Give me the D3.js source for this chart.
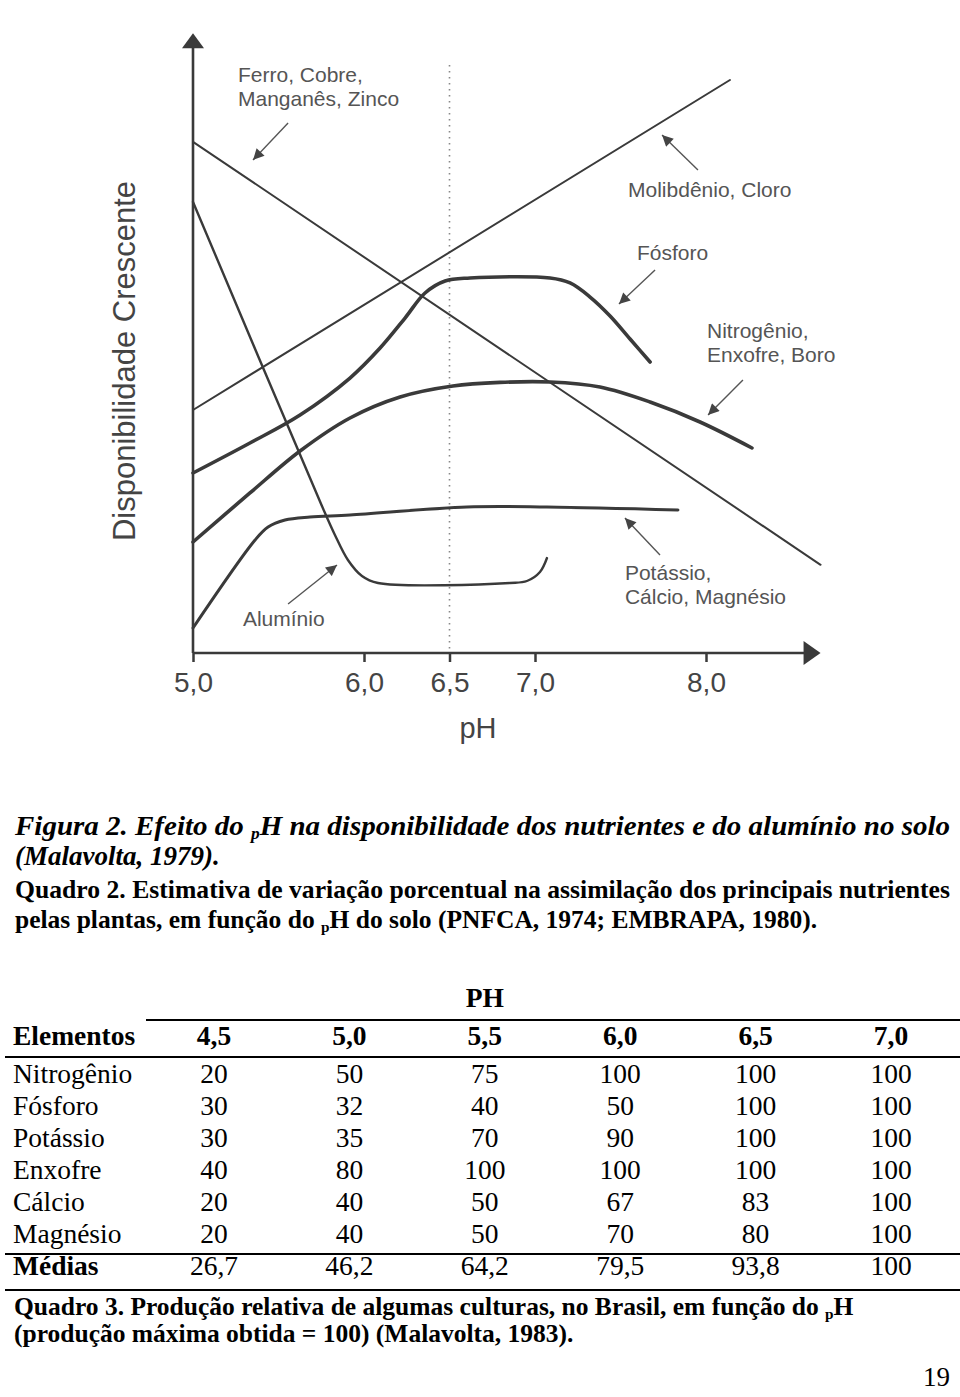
<!DOCTYPE html>
<html><head><meta charset="utf-8">
<script src="https://cdn.jsdelivr.net/npm/d3@7"></script>
<style>body{margin:0;background:#fff}</style>
</head><body><svg id="c" width="960" height="1397"></svg>
<script>
// ---------- chart data (pH on x, relative availability on y) ----------
const xTicks = [5.0, 6.0, 6.5, 7.0, 8.0];

const ferroPH  = [5.0, 8.67];
const ferroVal = [85.2, 14.7];

const molibPH  = [5.0, 8.14];
const molibVal = [40.5, 95.5];

const fosforoPH  = [5.0, 5.333, 5.626, 5.918, 6.094, 6.240, 6.357, 6.474, 6.620, 7.088, 7.205, 7.322, 7.439, 7.556, 7.673];
const fosforoVal = [30.0, 35.0, 39.67, 45.83, 50.83, 55.83, 60.0, 62.0, 62.5, 62.5, 61.67, 59.33, 56.17, 52.33, 48.5];

const nitroPH  = [5.0, 5.333, 5.626, 5.918, 6.211, 6.520, 6.795, 7.088, 7.380, 7.673, 7.965, 8.269];
const nitroVal = [18.5, 26.67, 33.67, 39.17, 42.67, 44.5, 45.1, 45.17, 44.33, 41.83, 38.5, 34.17];

const potassioPH  = [5.0, 5.363, 5.439, 5.538, 5.684, 5.918, 6.602, 7.070, 7.836];
const potassioVal = [4.17, 18.83, 21.0, 22.17, 22.67, 23.0, 24.33, 24.33, 23.83];

const aluminioPH  = [5.0, 5.754, 5.830, 5.906, 5.988, 6.082, 6.854, 6.953, 7.029, 7.070];
const aluminioVal = [75.17, 24.5, 19.67, 15.5, 12.83, 11.67, 11.67, 12.0, 13.5, 15.83];

// ---------- table data ----------
const phCols    = ["4,5", "5,0", "5,5", "6,0", "6,5", "7,0"];
const elementos = ["Nitrogênio", "Fósforo", "Potássio", "Enxofre", "Cálcio", "Magnésio"];
const nitrogenio = [20, 50, 75, 100, 100, 100];
const fosforo    = [30, 32, 40, 50, 100, 100];
const potassio   = [30, 35, 70, 90, 100, 100];
const enxofre    = [40, 80, 100, 100, 100, 100];
const calcio     = [20, 40, 50, 67, 83, 100];
const magnesio   = [20, 40, 50, 70, 80, 100];
const medias     = [26.7, 46.2, 64.2, 79.5, 93.8, 100];

// ---------- drawing ----------
const svg = d3.select("#c");
const ink = "#3a3a3a", labelInk = "#555";
const sans = "'Liberation Sans', Arial, sans-serif";
const serif = "'Liberation Serif', 'Times New Roman', serif";
const loc = d3.formatLocale({decimal: ",", thousands: ".", grouping: [3], currency: ["", ""]});
const f1 = loc.format(".1f");

const x = d3.scaleLinear().domain([5, 8]).range([193, 706]);
const y = d3.scaleLinear().domain([0, 100]).range([653, 53]);

const defs = svg.append("defs");
defs.append("marker").attr("id", "ah").attr("viewBox", "0 0 10 10")
  .attr("refX", 10).attr("refY", 5).attr("markerWidth", 12).attr("markerHeight", 11)
  .attr("markerUnits", "userSpaceOnUse").attr("orient", "auto")
  .append("path").attr("d", "M0,0 L10,5 L0,10 Z").attr("fill", "#444");

const g = svg.append("g");

// dotted pH 6.5 line
g.append("line").attr("x1", x(6.5)).attr("x2", x(6.5)).attr("y1", y(98)).attr("y2", y(0))
  .attr("stroke", "#888").attr("stroke-width", 1.6).attr("stroke-dasharray", "1.5,4.5");

// axes
const xAxis = d3.axisBottom(x).tickValues(xTicks).tickSize(9).tickPadding(10).tickFormat(f1);
const ax = g.append("g").attr("transform", `translate(0,${y(0)})`).call(xAxis);
ax.select(".domain").remove();
ax.selectAll(".tick line").attr("stroke", ink).attr("stroke-width", 2.5);
ax.selectAll(".tick text").attr("font-family", sans).attr("font-size", 28).attr("fill", "#444");

const x0 = x(5), xEnd = x(8.67), yTop = y(103.3);
g.append("line").attr("x1", x0).attr("x2", xEnd - 10).attr("y1", y(0)).attr("y2", y(0))
  .attr("stroke", ink).attr("stroke-width", 2.6);
g.append("path").attr("d", `M${xEnd - 17},${y(0) - 12} L${xEnd},${y(0)} L${xEnd - 17},${y(0) + 12} Z`).attr("fill", ink);
g.append("line").attr("x1", x0).attr("x2", x0).attr("y1", y(0)).attr("y2", yTop + 10)
  .attr("stroke", ink).attr("stroke-width", 2.6);
g.append("path").attr("d", `M${x0 - 11},${yTop + 15} L${x0},${yTop} L${x0 + 11},${yTop + 15} Z`).attr("fill", ink);

g.append("text").attr("x", 478).attr("y", 738).attr("text-anchor", "middle")
  .attr("font-family", sans).attr("font-size", 29).attr("fill", "#444").text("pH");
g.append("text").attr("transform", "translate(135,361) rotate(-90)").attr("text-anchor", "middle")
  .attr("font-family", sans).attr("font-size", 31).attr("fill", "#444").text("Disponibilidade Crescente");

// series
const series = [
  {ph: ferroPH, v: ferroVal, w: 2.0},
  {ph: molibPH, v: molibVal, w: 2.0},
  {ph: aluminioPH, v: aluminioVal, w: 2.4},
  {ph: potassioPH, v: potassioVal, w: 3.0},
  {ph: nitroPH, v: nitroVal, w: 3.6},
  {ph: fosforoPH, v: fosforoVal, w: 3.6}
];
const line = d3.line().x(d => x(d[0])).y(d => y(d[1])).curve(d3.curveCatmullRom.alpha(0.5));
series.forEach(s => {
  g.append("path").attr("d", line(d3.zip(s.ph, s.v))).attr("fill", "none")
    .attr("stroke", ink).attr("stroke-width", s.w).attr("stroke-linecap", "round").attr("stroke-linejoin", "round");
});

// annotations (in data units)
const notes = [
  {lines: ["Ferro, Cobre,", "Manganês, Zinco"], at: [5.263, 95.17], arrow: [[5.556, 88.33], [5.351, 82.17]]},
  {lines: ["Molibdênio, Cloro"], at: [7.544, 76.0], arrow: [[7.953, 80.5], [7.743, 86.33]]},
  {lines: ["Fósforo"], at: [7.596, 65.5], arrow: [[7.702, 63.83], [7.491, 58.17]]},
  {lines: ["Nitrogênio,", "Enxofre, Boro"], at: [8.006, 52.5], arrow: [[8.216, 45.5], [8.012, 39.67]]},
  {lines: ["Potássio,", "Cálcio, Magnésio"], at: [7.526, 12.17], arrow: [[7.731, 16.33], [7.526, 22.5]]},
  {lines: ["Alumínio"], at: [5.292, 4.5], arrow: [[5.556, 8.17], [5.842, 14.67]]}
];
notes.forEach(n => {
  n.lines.forEach((t, i) => {
    g.append("text").attr("x", x(n.at[0])).attr("y", y(n.at[1]) + i * 24)
      .attr("font-family", sans).attr("font-size", 21).attr("fill", labelInk).text(t);
  });
  g.append("line").attr("x1", x(n.arrow[0][0])).attr("y1", y(n.arrow[0][1]))
    .attr("x2", x(n.arrow[1][0])).attr("y2", y(n.arrow[1][1]))
    .attr("stroke", "#555").attr("stroke-width", 1.4).attr("marker-end", "url(#ah)");
});

// ---------- captions ----------
const cap = svg.append("g").attr("font-family", serif).attr("fill", "#000");
function pH(sel) { // adds subscript-p H
  sel.append("tspan").attr("font-size", "60%").attr("dy", 4).text("p");
  sel.append("tspan").attr("dy", -4).text("H");
}
let t = cap.append("text").attr("x", 15).attr("y", 835).attr("font-size", 26.5)
  .attr("font-style", "italic").attr("font-weight", "bold")
  .attr("textLength", 935).attr("lengthAdjust", "spacingAndGlyphs");
t.append("tspan").text("Figura 2. Efeito do ");
pH(t);
t.append("tspan").text(" na disponibilidade dos nutrientes e do alumínio no solo");
cap.append("text").attr("x", 15).attr("y", 865).attr("font-size", 27)
  .attr("font-style", "italic").attr("font-weight", "bold").text("(Malavolta, 1979).");
cap.append("text").attr("x", 15).attr("y", 898).attr("font-size", 25.5).attr("font-weight", "bold")
  .attr("textLength", 935).attr("lengthAdjust", "spacingAndGlyphs")
  .text("Quadro 2. Estimativa de variação porcentual na assimilação dos principais nutrientes");
t = cap.append("text").attr("x", 15).attr("y", 928).attr("font-size", 25.5).attr("font-weight", "bold");
t.append("tspan").text("pelas plantas, em função do ");
pH(t);
t.append("tspan").text(" do solo (PNFCA, 1974; EMBRAPA, 1980).");

// ---------- table ----------
const tab = svg.append("g").attr("font-family", serif).attr("fill", "#000").attr("font-size", 27.5);
const col = d3.scalePoint().domain(phCols).range([214, 891]);
const rowKeys = [...elementos, "Médias"];
const row = d3.scalePoint().domain(rowKeys).range([1083, 1275]);
const rows = [nitrogenio, fosforo, potassio, enxofre, calcio, magnesio];

tab.append("text").attr("x", col("5,5")).attr("y", 1007).attr("text-anchor", "middle")
  .attr("font-weight", "bold").text("PH");
const rule = (x1, yy) => tab.append("line").attr("x1", x1).attr("x2", 960).attr("y1", yy).attr("y2", yy)
  .attr("stroke", "#000").attr("stroke-width", 2);
rule(146, 1020); rule(5, 1057); rule(5, 1254); rule(5, 1290);

tab.append("text").attr("x", 13).attr("y", 1045).attr("font-weight", "bold").text("Elementos");
phCols.forEach(c => tab.append("text").attr("x", col(c)).attr("y", 1045)
  .attr("text-anchor", "middle").attr("font-weight", "bold").text(c));

elementos.forEach((e, i) => {
  tab.append("text").attr("x", 13).attr("y", row(e)).text(e);
  rows[i].forEach((v, j) => tab.append("text").attr("x", col(phCols[j])).attr("y", row(e))
    .attr("text-anchor", "middle").text(v));
});
tab.append("text").attr("x", 13).attr("y", row("Médias")).attr("font-weight", "bold").text("Médias");
medias.forEach((v, j) => tab.append("text").attr("x", col(phCols[j])).attr("y", row("Médias"))
  .attr("text-anchor", "middle").text(Number.isInteger(v) ? String(v) : f1(v)));

t = cap.append("text").attr("x", 14).attr("y", 1315).attr("font-size", 25.5).attr("font-weight", "bold");
t.append("tspan").text("Quadro 3. Produção relativa de algumas culturas, no Brasil, em função do ");
pH(t);
cap.append("text").attr("x", 14).attr("y", 1342).attr("font-size", 25.5).attr("font-weight", "bold")
  .text("(produção máxima obtida = 100) (Malavolta, 1983).");
cap.append("text").attr("x", 950).attr("y", 1386).attr("font-size", 27).attr("text-anchor", "end").text("19");
</script></body></html>
